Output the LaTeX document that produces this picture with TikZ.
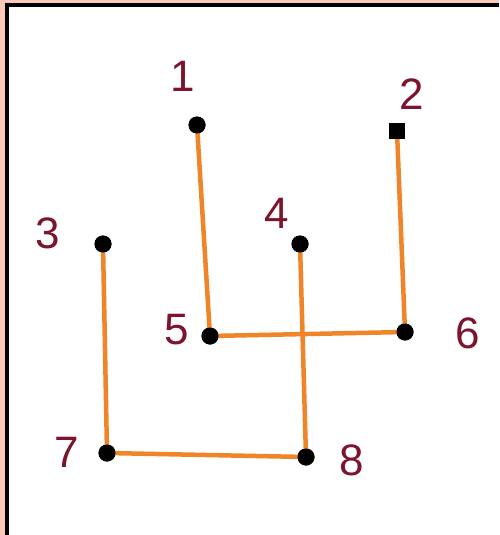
\documentclass[tikz,border=0pt]{standalone}
\usepackage{fontspec}
\setmainfont{Liberation Sans}
\definecolor{peach}{RGB}{252,200,184}
\definecolor{edgeor}{RGB}{240,132,40}
\definecolor{labred}{RGB}{125,20,45}
\begin{document}
\begin{tikzpicture}[x=1pt,y=-1pt,
  vtx/.style={circle,fill=black,inner sep=0pt,minimum size=17pt},
  sqvtx/.style={rectangle,fill=black,inner sep=0pt,minimum size=16pt},
  lab/.style={text=labred,font=\fontsize{44}{44}\selectfont,inner sep=0pt},
  link/.style={draw=edgeor,line width=4.5pt}]
\useasboundingbox (0,0) rectangle (499,535);
\fill[white] (0,0) rectangle (499,535);
\fill[peach] (0,0) rectangle (499,3);
\fill[peach] (0,0) rectangle (5,535);
\draw[black,line width=3.5pt] (6.8,535) -- (6.8,4.8) -- (499,4.8);
% vertices
\node[vtx] (n1) at (197,125) {};
\node[sqvtx] (n2) at (397,131) {};
\node[vtx] (n3) at (103,244) {};
\node[vtx] (n4) at (300,244) {};
\node[vtx] (n5) at (210,336) {};
\node[vtx] (n6) at (405,332) {};
\node[vtx] (n7) at (107,453) {};
\node[vtx] (n8) at (306,457) {};
% edges
\draw[link] (n1.center) -- (n5.center);
\draw[link] (n2.center) -- (n6.center);
\draw[link] (n3.center) -- (n7.center);
\draw[link] (n4.center) -- (n8.center);
\draw[link] (n5.center) -- (n6.center);
\draw[link] (n7.center) -- (n8.center);
% redraw vertices on top
\foreach \p in {n1,n3,n4,n5,n6,n7,n8} \fill[black] (\p) circle (8.5);
\fill[black] ([shift={(-8,-8)}]n2.center) rectangle ([shift={(8,8)}]n2.center);
% labels
\node[lab] (l1) at (183,76) {1};
\node[lab] (l2) at (412,94) {2};
\node[lab] (l3) at (48,233) {3};
\node[lab] (l4) at (277,213) {4};
\node[lab] (l5) at (177,330) {5};
\node[lab] (l6) at (468,333) {6};
\node[lab] (l7) at (67,452) {7};
\node[lab] (l8) at (352,460) {8};
\end{tikzpicture}
\end{document}
